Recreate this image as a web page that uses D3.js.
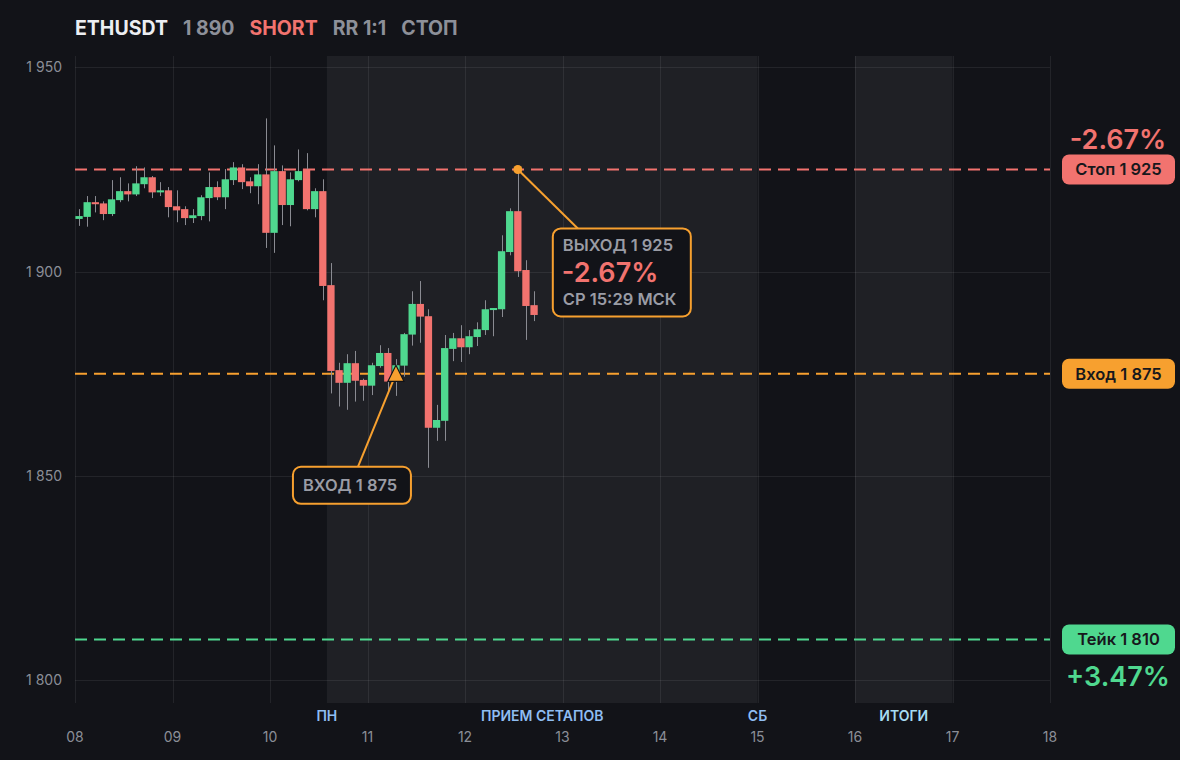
<!DOCTYPE html>
<html>
<head>
<meta charset="utf-8">
<script src="https://d3js.org/d3.v7.min.js"></script>
<title>ETHUSDT SHORT</title>
<style>
  html, body { margin: 0; padding: 0; background: #121318; }
  svg { display: block; font-family: Inter, "Noto Sans", sans-serif; }
</style>
</head>
<body>
<svg></svg>
<script>
// 2h candles starting 08 00:00
const opens  = [1912.9,1913.4,1917.0,1916.7,1914.1,1917.5,1919.7,1918.9,1921.4,1923.1,1919.4,1919.9,1916.0,1915.3,1913.1,1913.6,1918.0,1920.7,1918.2,1922.4,1925.5,1922.1,1920.9,1923.8,1909.5,1924.6,1916.3,1922.4,1925.1,1915.3,1919.7,1896.7,1875.9,1872.8,1877.6,1873.5,1872.1,1876.9,1880.1,1875.3,1877.0,1884.6,1892.1,1889.1,1861.8,1863.5,1881.1,1883.7,1881.5,1884.0,1885.7,1890.6,1890.8,1904.8,1914.8,1900.4,1891.8];
const highs  = [1915.3,1918.5,1918.5,1917.2,1922.4,1923.1,1921.6,1925.8,1925.5,1923.4,1921.9,1920.7,1919.9,1916.0,1915.3,1918.7,1924.3,1922.1,1925.1,1926.8,1926.3,1923.1,1926.3,1937.5,1930.9,1926.0,1924.3,1929.9,1929.0,1920.4,1922.6,1902.1,1877.7,1879.8,1880.6,1873.8,1877.7,1882.0,1881.3,1878.6,1885.0,1895.2,1897.7,1890.8,1867.4,1884.5,1885.0,1886.9,1885.7,1887.6,1893.0,1891.1,1908.9,1915.5,1924.5,1902.8,1895.2];
const lows   = [1911.2,1911.0,1914.5,1912.6,1913.6,1917.0,1917.2,1918.5,1920.4,1918.0,1918.5,1913.3,1912.1,1911.4,1911.9,1912.6,1912.3,1917.5,1915.3,1921.2,1920.2,1919.2,1916.5,1905.8,1904.6,1911.4,1911.1,1922.1,1915.0,1913.3,1893.0,1870.2,1867.0,1866.2,1868.2,1868.4,1869.8,1876.5,1870.9,1869.6,1874.3,1881.9,1882.6,1852.0,1858.6,1858.6,1878.1,1877.9,1879.8,1881.8,1884.5,1884.2,1888.9,1904.0,1898.7,1883.3,1887.9];
const closes = [1913.6,1917.0,1916.5,1914.1,1917.7,1919.7,1918.9,1921.6,1923.1,1919.4,1919.9,1915.8,1915.0,1913.1,1913.8,1918.2,1920.7,1918.2,1922.6,1925.5,1921.9,1920.9,1923.8,1909.5,1924.6,1916.3,1922.6,1924.6,1915.3,1919.7,1896.5,1875.7,1872.8,1877.6,1873.3,1872.1,1877.1,1880.1,1873.1,1877.1,1884.7,1892.1,1889.0,1861.8,1863.7,1881.3,1883.7,1881.5,1884.2,1885.9,1890.8,1891.1,1905.0,1914.8,1900.1,1891.6,1889.4];

const dayTicks = [8, 9, 10, 11, 12, 13, 14, 15, 16, 17, 18];
const priceTicks = [1800, 1850, 1900, 1950];
const zones = [
  { from: 10 + 14 / 24, to: 15, label: "ПРИЕМ СЕТАПОВ", color: "#8fbdf2" },
  { from: 16, to: 17, label: "ИТОГИ", color: "#a6dcf2" }
];
const zoneEdges = [
  { at: 10 + 14 / 24, label: "ПН" },
  { at: 15, label: "СБ" }
];
const stopPrice = 1925, entryPrice = 1875, takePrice = 1810;
const entryCandle = 39, exitCandle = 54;

const W = 1180, H = 760;
const mLeft = 75, mRight = 1050, mTop = 56, mBottom = 703;
const RED = "#f2736f", GREEN = "#4fd88f", ORANGE = "#f7a02f", GREY = "#9a9ca5", BG = "#121318";

const nbsp = d3.formatLocale({ decimal: ",", thousands: "\u00a0", grouping: [3], currency: ["", ""] }).format(",");

const svg = d3.select("svg").attr("width", W).attr("height", H);
svg.append("rect").attr("width", W).attr("height", H).attr("fill", BG);

const x = d3.scaleLinear().domain([8, 18]).range([mLeft, mRight]);
const y = d3.scaleLinear().domain([1794.45, 1952.77]).range([mBottom, mTop]);
const tOf = i => 8 + (i + 0.5) / 12;
const bw = (x(8 + 1 / 12) - x(8)) * 0.9;

// zones
svg.append("g").selectAll("rect").data(zones).join("rect")
  .attr("x", d => x(d.from)).attr("width", d => x(d.to) - x(d.from))
  .attr("y", mTop).attr("height", mBottom - mTop)
  .attr("fill", "#1f2025");

// grid
const grid = svg.append("g").attr("stroke", "#ffffff").attr("stroke-opacity", 0.075).attr("stroke-width", 1);
grid.selectAll(".h").data(priceTicks).join("line").attr("class", "h")
  .attr("x1", mLeft).attr("x2", mRight)
  .attr("y1", d => Math.round(y(d)) + 0.5).attr("y2", d => Math.round(y(d)) + 0.5);
grid.selectAll(".v").data(dayTicks).join("line").attr("class", "v")
  .attr("y1", mTop).attr("y2", mBottom)
  .attr("x1", d => Math.round(x(d)) + 0.5).attr("x2", d => Math.round(x(d)) + 0.5);

// axes labels
svg.append("g").selectAll("text").data(priceTicks).join("text")
  .attr("x", 62).attr("y", d => y(d) + 5)
  .attr("text-anchor", "end").attr("font-size", 14).attr("fill", "#8b8e97")
  .text(d => nbsp(d));
svg.append("g").selectAll("text").data(dayTicks).join("text")
  .attr("x", d => x(d)).attr("y", 742)
  .attr("text-anchor", "middle").attr("font-size", 14).attr("fill", "#8b8e97")
  .text(d => d3.format("02d")(d));
svg.append("g").selectAll("text").data(zones).join("text")
  .attr("x", d => (x(d.from) + x(d.to)) / 2).attr("y", 721)
  .attr("text-anchor", "middle").attr("font-size", 14).attr("font-weight", 600).attr("fill", d => d.color)
  .text(d => d.label);
svg.append("g").selectAll("text").data(zoneEdges).join("text")
  .attr("x", d => x(d.at)).attr("y", 721)
  .attr("text-anchor", "middle").attr("font-size", 14).attr("font-weight", 600).attr("fill", "#8fbdf2")
  .text(d => d.label);

// level lines
const levels = [
  { p: stopPrice, c: RED, label: "Стоп " + nbsp(stopPrice) },
  { p: entryPrice, c: ORANGE, label: "Вход " + nbsp(entryPrice) },
  { p: takePrice, c: GREEN, label: "Тейк " + nbsp(takePrice) }
];
svg.append("g").selectAll("line").data(levels).join("line")
  .attr("x1", mLeft).attr("x2", mRight)
  .attr("y1", d => y(d.p)).attr("y2", d => y(d.p))
  .attr("stroke", d => d.c).attr("stroke-width", 2).attr("stroke-dasharray", "12,7");

// candles
const idx = d3.range(opens.length);
const cg = svg.append("g");
cg.selectAll("line").data(idx).join("line")
  .attr("x1", i => Math.round(x(tOf(i))) + 0.5).attr("x2", i => Math.round(x(tOf(i))) + 0.5)
  .attr("y1", i => y(highs[i])).attr("y2", i => y(lows[i]))
  .attr("stroke", "#8a8b92").attr("stroke-width", 1);
cg.selectAll("rect").data(idx).join("rect")
  .attr("x", i => x(tOf(i)) - bw / 2).attr("width", bw)
  .attr("y", i => y(Math.max(opens[i], closes[i])))
  .attr("height", i => Math.max(1.5, Math.abs(y(opens[i]) - y(closes[i]))))
  .attr("fill", i => closes[i] >= opens[i] ? GREEN : RED);

// right labels
const lg = svg.append("g");
lg.selectAll("rect").data(levels).join("rect")
  .attr("x", 1062).attr("width", 113).attr("y", d => y(d.p) - 15).attr("height", 30)
  .attr("rx", 7).attr("fill", d => d.c);
lg.selectAll("text").data(levels).join("text")
  .attr("x", 1118.5).attr("y", d => y(d.p) + 6)
  .attr("text-anchor", "middle").attr("font-size", 16.5).attr("font-weight", 600).attr("fill", "#17181c")
  .text(d => d.label);
svg.append("text").attr("x", 1118).attr("y", 149).attr("text-anchor", "middle")
  .attr("font-size", 27).attr("font-weight", 600).attr("fill", RED).text("-2.67%");
svg.append("text").attr("x", 1118).attr("y", 686).attr("text-anchor", "middle")
  .attr("font-size", 27).attr("font-weight", 600).attr("fill", GREEN).text("+3.47%");

// exit callout
const ex = x(tOf(exitCandle)), ey = y(stopPrice);
const eb = { x: ex + 35, y: ey + 59, w: 138, h: 88 };
svg.append("line").attr("x1", ex).attr("y1", ey).attr("x2", eb.x + 25).attr("y2", eb.y)
  .attr("stroke", ORANGE).attr("stroke-width", 2);
svg.append("circle").attr("cx", ex).attr("cy", ey).attr("r", 4.5).attr("fill", ORANGE);
svg.append("rect").attr("x", eb.x).attr("y", eb.y).attr("width", eb.w).attr("height", eb.h)
  .attr("rx", 8).attr("fill", BG).attr("stroke", ORANGE).attr("stroke-width", 2);
svg.append("text").attr("x", eb.x + 10).attr("y", eb.y + 23).attr("font-size", 16.5).attr("font-weight", 600)
  .attr("fill", GREY).text("ВЫХОД " + nbsp(stopPrice));
svg.append("text").attr("x", eb.x + 9).attr("y", eb.y + 54).attr("font-size", 27).attr("font-weight", 600)
  .attr("fill", RED).text("-2.67%");
svg.append("text").attr("x", eb.x + 10).attr("y", eb.y + 77).attr("font-size", 16.5).attr("font-weight", 600)
  .attr("fill", GREY).text("СР 15:29 МСК");

// entry callout
const nx = x(tOf(entryCandle)), ny = y(entryPrice);
const nb = { x: nx - 103, y: ny + 93, w: 118, h: 37 };
svg.append("line").attr("x1", nx).attr("y1", ny).attr("x2", nb.x + 65).attr("y2", nb.y)
  .attr("stroke", ORANGE).attr("stroke-width", 2);
svg.append("path")
  .attr("d", `M${nx},${ny - 8.5} L${nx + 8},${ny + 7.5} L${nx - 8},${ny + 7.5} Z`)
  .attr("fill", ORANGE).attr("stroke", BG).attr("stroke-width", 1.2);
svg.append("rect").attr("x", nb.x).attr("y", nb.y).attr("width", nb.w).attr("height", nb.h)
  .attr("rx", 8).attr("fill", BG).attr("stroke", ORANGE).attr("stroke-width", 2);
svg.append("text").attr("x", nb.x + 10).attr("y", nb.y + 24).attr("font-size", 16.5).attr("font-weight", 600)
  .attr("fill", GREY).text("ВХОД " + nbsp(entryPrice));

// header
const head = svg.append("text").attr("x", 75).attr("y", 35).attr("font-size", 19.5).attr("font-weight", 700);
head.append("tspan").attr("fill", "#eceef2").text("ETHUSDT");
head.append("tspan").attr("dx", 15).attr("fill", "#8d9099").text(nbsp(1890));
head.append("tspan").attr("dx", 15).attr("fill", RED).text("SHORT");
head.append("tspan").attr("dx", 15).attr("fill", "#8d9099").text("RR 1:1");
head.append("tspan").attr("dx", 15).attr("fill", "#8d9099").text("СТОП");
</script>
</body>
</html>
